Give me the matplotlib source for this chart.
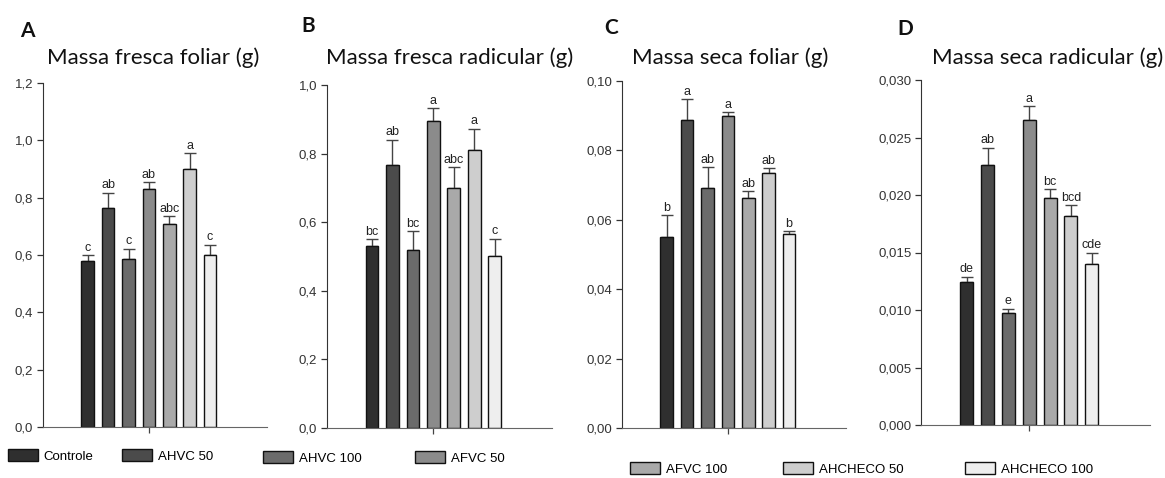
import numpy as np
import matplotlib
matplotlib.use("Agg")
import matplotlib.pyplot as plt
from matplotlib.ticker import FuncFormatter, MultipleLocator

treatments = ["Controle", "AHVC 50", "AHVC 100", "AFVC 50",
              "AFVC 100", "AHCHECO 50", "AHCHECO 100"]
bar_colors = ["#2f2f2f", "#4b4b4b", "#6b6b6b", "#8b8b8b",
              "#a9a9a9", "#cecece", "#eeeeee"]

# Massa fresca foliar (g)
mff_mean = [0.580, 0.765, 0.587, 0.831, 0.707, 0.899, 0.600]
mff_se = [0.020, 0.052, 0.035, 0.023, 0.029, 0.057, 0.036]
mff_letters = ["c", "ab", "c", "ab", "abc", "a", "c"]

# Massa fresca radicular (g)
mfr_mean = [0.531, 0.766, 0.518, 0.894, 0.701, 0.811, 0.501]
mfr_se = [0.019, 0.074, 0.055, 0.038, 0.060, 0.062, 0.051]
mfr_letters = ["bc", "ab", "bc", "a", "abc", "a", "c"]

# Massa seca foliar (g)
msf_mean = [0.0550, 0.0888, 0.0693, 0.0898, 0.0663, 0.0735, 0.0558]
msf_se = [0.0063, 0.0060, 0.0058, 0.0012, 0.0020, 0.0013, 0.0009]
msf_letters = ["b", "a", "ab", "a", "ab", "ab", "b"]

# Massa seca radicular (g)
msr_mean = [0.0124, 0.0226, 0.0097, 0.0265, 0.0197, 0.0182, 0.0140]
msr_se = [0.0005, 0.0015, 0.0004, 0.0012, 0.0008, 0.0009, 0.0010]
msr_letters = ["de", "ab", "e", "a", "bc", "bcd", "cde"]

panels = [
    ("A", "Massa fresca foliar (g)", mff_mean, mff_se, mff_letters, 1.2, 0.2, 1),
    ("B", "Massa fresca radicular (g)", mfr_mean, mfr_se, mfr_letters, 1.0, 0.2, 1),
    ("C", "Massa seca foliar (g)", msf_mean, msf_se, msf_letters, 0.10, 0.02, 2),
    ("D", "Massa seca radicular (g)", msr_mean, msr_se, msr_letters, 0.030, 0.005, 3),
]

# axes rectangles in figure pixels: left, right, top, bottom
W, H = 1165, 478
rects = [(43, 267, 83, 427), (327, 552, 85, 428),
         (622, 846, 81, 428), (921, 1150, 80, 425)]
title_x = [153, 450, 730, 1048]
letter_xy = [(27, 31), (308, 26), (611, 28), (905, 29)]

fig = plt.figure(figsize=(W / 100, H / 100), dpi=100)
tick_font = ["Liberation Sans", "DejaVu Sans"]
title_font = ["Lato", "DejaVu Sans"]

x = np.arange(len(treatments))
handles = None
for (tag, title, mean, se, letters, ymax, step, dec), (l, r, t, b), tx, (lx, ly) in zip(
        panels, rects, title_x, letter_xy):
    ax = fig.add_axes([l / W, 1 - b / H, (r - l) / W, (b - t) / H])
    bars = ax.bar(x, mean, width=0.62, color=bar_colors,
                  edgecolor="#111111", linewidth=1.0, zorder=2)
    if handles is None:
        handles = bars
    ax.errorbar(x, mean, yerr=[np.zeros(len(x)), se], fmt="none",
                ecolor="#444444", elinewidth=1.0, capsize=4.2, capthick=1.0,
                zorder=1)
    for xi, m, e, lab in zip(x, mean, se, letters):
        ax.annotate(lab, (xi, m + e), xytext=(0, 1), textcoords="offset points",
                    ha="center", va="bottom", fontsize=9, color="#222222",
                    family=tick_font)
    ax.set_xlim(-2.2, 8.8)
    ax.set_ylim(0, ymax)
    ax.yaxis.set_major_locator(MultipleLocator(step))
    ax.yaxis.set_major_formatter(
        FuncFormatter(lambda v, pos, d=dec: f"{v:.{d}f}".replace(".", ",")))
    ax.set_xticks([3])
    ax.set_xticklabels([""])
    for side in ("top", "right"):
        ax.spines[side].set_visible(False)
    ax.spines["left"].set_color("#333333")
    ax.spines["bottom"].set_color("#666666")
    ax.tick_params(axis="y", direction="out", length=4, width=0.9,
                   colors="#333333", labelsize=9.5, pad=3)
    ax.tick_params(axis="x", direction="out", length=4, width=0.9, colors="#444444")
    for lab in ax.get_yticklabels():
        lab.set_family(tick_font)
    fig.text(tx / W, 1 - 58 / H, title, ha="center", va="center",
             fontsize=16, family=title_font, color="#111111")
    fig.text(lx / W, 1 - ly / H, tag, ha="center", va="center",
             fontsize=15, fontweight="bold", family=title_font, color="#111111")

# one legend box per treatment along the bottom
legend_pos = [(8, 456), (122, 456), (263, 458), (415, 458),
              (630, 469), (783, 469), (965, 469)]
legend_font = {"family": ["Liberation Sans", "DejaVu Sans"], "size": 9.5}
for h, name, (px, py) in zip(handles, treatments, legend_pos):
    fig.legend(handles=[h], labels=[name], loc="center left",
               bbox_to_anchor=(px / W, 1 - py / H), frameon=False,
               prop=legend_font, handlelength=2.3, handleheight=1.0,
               handletextpad=0.4, borderpad=0, borderaxespad=0)

fig.savefig("out.png", dpi=100)
